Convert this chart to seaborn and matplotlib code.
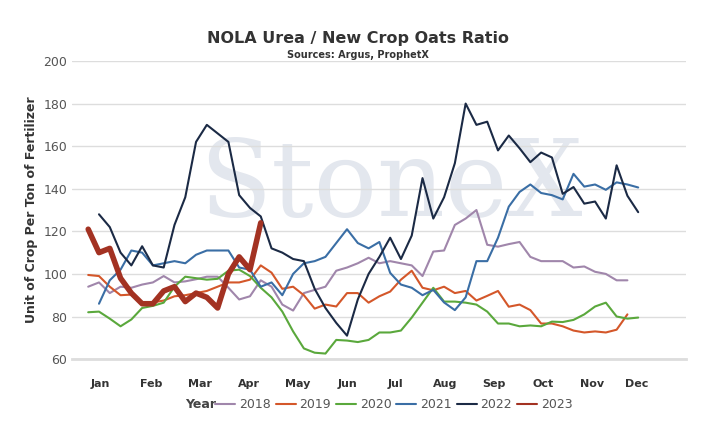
import matplotlib
matplotlib.use("Agg")
import matplotlib.pyplot as plt
from matplotlib.lines import Line2D
import seaborn as sns
import pandas as pd

# weekly ratio values, week 0 = first week of January
y2018 = [94, 96, 91, 94, 93.5, 95, 96, 99, 96, 96.5, 97.5, 98.7, 98.7, 93.5, 88, 89.5, 97, 94, 85.6, 82.8,
         91, 92.5, 94, 101.5, 103, 105, 107.6, 105, 106, 105, 104, 99, 110.5, 111, 123, 126, 130, 113.7, 112.8,
         114, 115, 108, 106, 106, 106, 103, 103.5, 101, 100, 97, 97]
y2019 = [99.5, 99, 94, 90, 90.3, 85.6, 86.6, 87.5, 89.5, 90, 91, 92, 94, 96, 96, 97.3, 104, 100.6, 93, 94,
         90, 83.7, 85.6, 84.7, 91, 91, 86.5, 89.5, 91.7, 97.3, 101.5, 93.5, 92.3, 94, 91, 92, 87.5, 89.7, 92,
         84.6, 85.6, 83, 76.7, 76.7, 75.4, 73.4, 72.5, 73, 72.5, 73.8, 81]
y2020 = [82, 82.3, 79, 75.4, 78.6, 84, 85, 86.5, 94, 98.7, 98, 97.3, 97.7, 101.5, 102, 99, 93.5, 89, 82.3, 73,
         65, 63, 62.6, 69, 68.7, 68, 69, 72.5, 72.5, 73.4, 79.5, 86.5, 93.5, 87, 87, 86.5, 85.6, 82.3, 76.7,
         76.7, 75.4, 75.8, 75.4, 77.6, 77.4, 78.4, 81, 84.7, 86.5, 80, 79, 79.5]
y2021 = [None, 86, 97, 102, 111, 110, 104, 105, 106, 105, 109, 111, 111, 111, 103, 102, 94, 96, 90, 100, 105,
         106, 108, 114.5, 121, 114.5, 112, 115, 100.5, 95, 93.5, 90, 92.5, 86.6, 83, 89, 106, 106, 117, 131.6,
         138.5, 142, 138, 137, 135, 147, 141, 142, 139.5, 143, 142, 140.6]
y2022 = [None, 128, 122, 110, 104, 113, 104, 103, 123, 136, 162, 170, 166, 162, 137, 131, 127, 112, 110, 107,
         106, 93, 84, 77, 71, 88, 100, 108, 117, 107, 118, 145, 126, 136, 152, 180, 170, 171.5, 158, 165, 159,
         152.5, 157, 154.7, 137.6, 140.8, 133, 134, 126, 151, 136.7, 129]
y2023 = [121, 110, 112, 98, 91, 86, 86, 92, 94, 87, 91, 89, 84, 100, 108, 102, 124]

years = ["2018", "2019", "2020", "2021", "2022", "2023"]
series = [y2018, y2019, y2020, y2021, y2022, y2023]
colors = ["#a086ab", "#d4572a", "#5aa83c", "#3a6ea5", "#1b2a45", "#a33222"]
months = ["Jan", "Feb", "Mar", "Apr", "May", "Jun", "Jul", "Aug", "Sep", "Oct", "Nov", "Dec"]
month_pos = [1.1, 5.8, 10.4, 14.9, 19.4, 24, 28.5, 33.1, 37.6, 42.2, 46.7, 50.9]

rows = []
for yr, vals in zip(years, series):
    for w, v in enumerate(vals):
        if v is not None:
            rows.append({"week": w, "ratio": v, "Year": yr})
df = pd.DataFrame(rows)

sns.set_style("white")
fig = plt.figure(figsize=(7.16, 4.28), dpi=100)
ax = fig.add_axes([0.1006, 0.161, 0.857, 0.6965])

ax.text(0.52, 0.58, "StoneX", transform=ax.transAxes, ha="center", va="center",
        fontsize=76, family="DejaVu Serif", color="#e3e7ee", zorder=0)

for yr, c in zip(years, colors):
    d = df[df["Year"] == yr]
    sns.lineplot(data=d, x="week", y="ratio", color=c, ax=ax, legend=False,
                 linewidth=4 if yr == "2023" else 1.5, zorder=3 if yr == "2023" else 2)

ax.set_xlim(-1.5, 55.4)
ax.set_ylim(60, 200)
ax.set_yticks(range(60, 201, 20))
ax.grid(axis="y", color="#dddddd", linewidth=1)
ax.tick_params(axis="y", colors="#555555", labelsize=9, length=0)
ax.set_xticks(month_pos)
ax.set_xticklabels(months, fontsize=8, fontweight="bold", color="#333333")
ax.tick_params(axis="x", length=0, pad=14)
for s in ["top", "right", "left"]:
    ax.spines[s].set_visible(False)
ax.spines["bottom"].set_color("#dddddd")
ax.spines["bottom"].set_linewidth(2)
ax.set_xlabel("")
ax.set_ylabel("Unit of Crop Per Ton of Fertilizer", fontsize=9, fontweight="bold", color="#333333")

handles = [Line2D([], [], color=c, linewidth=1.5) for c in colors]
fig.legend(handles, years, loc="center", bbox_to_anchor=(0.55, 0.055), ncol=6, frameon=False,
           fontsize=9, handlelength=1.6, handletextpad=0.3, columnspacing=0.4, labelcolor="#555555")
fig.text(0.258, 0.055, "Year", fontsize=9, fontweight="bold", color="#444444", va="center")

fig.text(0.5, 0.9, "NOLA Urea / New Crop Oats Ratio", ha="center", fontsize=11.5,
         fontweight="bold", color="#333333")
fig.text(0.5, 0.865, "Sources: Argus, ProphetX", ha="center", fontsize=7,
         fontweight="bold", color="#333333")

fig.savefig("out.png", dpi=100)
